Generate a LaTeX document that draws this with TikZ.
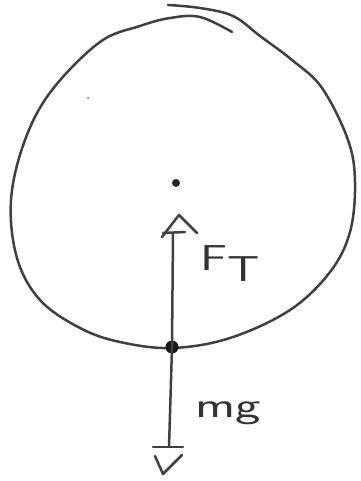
\documentclass[tikz,border=0pt]{standalone}
\begin{document}
\begin{tikzpicture}[x=1pt,y=-1pt,
  ink/.style={draw=black!75,line width=2.5pt,line cap=round,line join=round},
  lbl/.style={text=black!80,font=\sffamily\fontsize{36}{36}\selectfont,inner sep=0pt}]
\useasboundingbox (0,0) rectangle (360,481);
% circle (hand drawn, with overlapping stroke at the top)
\draw[ink] plot[smooth,tension=0.6] coordinates {(232,32) (200,17) (170,18) (140,26) (100,42) (52,90) (25,140) (11,200) (17,258) (40,300) (80,328) (120,342) (172,348) (230,338) (290,310) (330,272) (350,232) (355,182) (348,140) (322,88) (292,60) (260,36) (233,16) (200,8) (168,5)};
% dots
\node[circle,fill=black!85,inner sep=0pt,minimum size=8pt] (c) at (176,183) {};
\node[circle,fill=black!90,inner sep=0pt,minimum size=13pt] (p) at (172,347) {};
\node[circle,fill=black!40,inner sep=0pt,minimum size=2.5pt] (s) at (88,98) {};
% arrows
\coordinate (up) at (173,233);
\coordinate (dn) at (169,447);
\draw[ink] (p.center) -- (up);
\draw[ink] (162,237) -- (179,215) -- (197,233);
\draw[ink] (163,233) -- (185,232);
\draw[ink] (p.center) -- (dn);
\draw[ink] (153,447) -- (183,447);
\draw[ink] (155,456) -- (163,474) -- (182,455);
% labels
\node[lbl,anchor=north west] (ft) at (200,245) {\scalebox{1.4}[1]{F\raisebox{-11pt}{T}}};
\node[lbl,anchor=west] (mg) at (195,413) {\scalebox{1.5}[1]{mg}};
\end{tikzpicture}
\end{document}
